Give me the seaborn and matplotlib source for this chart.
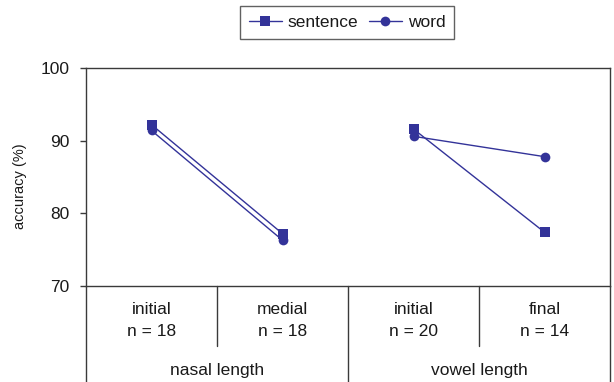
import matplotlib
matplotlib.use("Agg")
import matplotlib.pyplot as plt
import seaborn as sns
import pandas as pd

# Conditions along the x axis
conditions = ["initial", "medial", "initial", "final"]
counts = ["n = 18", "n = 18", "n = 20", "n = 14"]
blocks = ["nasal length", "nasal length", "vowel length", "vowel length"]

# Accuracy (%) per condition for each task
sentence = [92.2, 77.2, 91.6, 77.4]
word = [91.4, 76.3, 90.6, 87.8]

navy = "#333399"
frame = "#3a3a3a"

rows = []
for task, vals in (("sentence", sentence), ("word", word)):
    for i, v in enumerate(vals):
        rows.append({"pos": i, "acc": v, "task": task, "block": blocks[i]})
df = pd.DataFrame(rows)

sns.set_style("white")
plt.rcParams["font.family"] = ["Liberation Sans", "DejaVu Sans"]

fig = plt.figure(figsize=(6.14, 3.82), dpi=100)
ax = fig.add_axes([86 / 614, 1 - 286 / 382, 524 / 614, 218 / 382])

sns.lineplot(
    data=df, x="pos", y="acc", hue="task", style="task", units="block",
    estimator=None, markers={"sentence": "s", "word": "o"}, dashes=False,
    palette={"sentence": navy, "word": navy}, linewidth=1.0,
    markersize=7, markeredgewidth=0, ax=ax, legend=True,
)

handles, labels = ax.get_legend_handles_labels()
ax.get_legend().remove()

ax.set_xlim(-0.5, 3.5)
ax.set_ylim(70, 100)
ax.set_yticks([70, 80, 90, 100])
ax.set_xticks([])
ax.set_xlabel("")
ax.set_ylabel("accuracy (%)", fontsize=10.5, color="#1a1a1a")
ax.yaxis.set_label_coords(-0.112, (286 - 186) / 218)
ax.tick_params(axis="y", direction="out", length=4, width=1, color=frame,
               labelsize=12.5, labelcolor="#1a1a1a", pad=8, left=True)
for s in ax.spines.values():
    s.set_visible(True)
    s.set_color(frame)
    s.set_linewidth(1.0)

# Category table below the plot area
tr = ax.get_xaxis_transform()
bottom = -(382 - 286) / 218
for x in (-0.5, 1.5, 3.5):
    ax.plot([x, x], [0, bottom], transform=tr, color=frame, lw=1.0, clip_on=False)
for x in (0.5, 2.5):
    ax.plot([x, x], [0, -(346 - 286) / 218], transform=tr, color=frame, lw=1.0, clip_on=False)

for i, (c, n) in enumerate(zip(conditions, counts)):
    ax.text(i, -(309 - 286) / 218, c, transform=tr, ha="center", va="center",
            fontsize=12.5, color="#1a1a1a")
    ax.text(i, -(332 - 286) / 218, n, transform=tr, ha="center", va="center",
            fontsize=12.5, color="#1a1a1a")
for x, name in ((0.5, "nasal length"), (2.5, "vowel length")):
    ax.text(x, -(371 - 286) / 218, name, transform=tr, ha="center", va="center",
            fontsize=12.5, color="#1a1a1a")

leg = fig.legend(
    handles, labels, loc="upper center", bbox_to_anchor=(347 / 614, 1 - 6 / 382),
    ncol=2, frameon=True, fancybox=False, fontsize=12.5, handlelength=1.9,
    handletextpad=0.35, columnspacing=0.6, borderpad=0.5, borderaxespad=0,
)
leg.get_frame().set_edgecolor(frame)
leg.get_frame().set_linewidth(1.0)
for t in leg.get_texts():
    t.set_color("#1a1a1a")

fig.savefig("out.png", dpi=100)
